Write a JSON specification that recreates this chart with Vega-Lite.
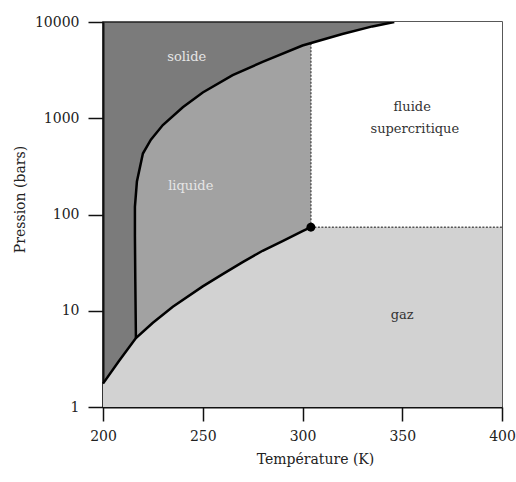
{
  "$schema": "https://vega.github.io/schema/vega-lite/v6.json",
  "autosize": "none",
  "width": 399,
  "height": 385,
  "padding": {"left": 103, "top": 22, "right": 14, "bottom": 75},
  "background": "white",
  "config": {
    "view": {"fill": "#7b7b7b", "stroke": "#222", "strokeWidth": 1.5},
    "font": "DejaVu Serif"
  },
  "datasets": {
    "gas": [
      {"T": 200, "P": 1.75}, {"T": 208, "P": 3.0}, {"T": 216.5, "P": 5.2},
      {"T": 225, "P": 7.5}, {"T": 235, "P": 11}, {"T": 250, "P": 17.9},
      {"T": 260, "P": 24}, {"T": 270, "P": 32}, {"T": 280, "P": 42},
      {"T": 290, "P": 53}, {"T": 300, "P": 67}, {"T": 304.2, "P": 73.8},
      {"T": 400, "P": 73.8}
    ],
    "vapor": [
      {"T": 200, "P": 1.75}, {"T": 208, "P": 3.0}, {"T": 216.5, "P": 5.2},
      {"T": 225, "P": 7.5}, {"T": 235, "P": 11}, {"T": 250, "P": 17.9},
      {"T": 260, "P": 24}, {"T": 270, "P": 32}, {"T": 280, "P": 42},
      {"T": 290, "P": 53}, {"T": 300, "P": 67}, {"T": 304.2, "P": 73.8}
    ],
    "liquid": [
      {"T": 216, "P": 120}, {"T": 217, "P": 220}, {"T": 220, "P": 430},
      {"T": 224, "P": 600}, {"T": 230, "P": 850}, {"T": 240, "P": 1300},
      {"T": 250, "P": 1850}, {"T": 265, "P": 2800}, {"T": 280, "P": 3850},
      {"T": 300, "P": 5700}, {"T": 304.2, "P": 6100}
    ],
    "fluid": [
      {"T": 304.2, "P": 6100}, {"T": 320, "P": 7500}, {"T": 335, "P": 9000},
      {"T": 346, "P": 10000}, {"T": 400, "P": 10000}
    ],
    "melt": [
      {"i": 1, "T": 216.5, "P": 5.2}, {"i": 2, "T": 216.2, "P": 20},
      {"i": 3, "T": 216, "P": 60}, {"i": 4, "T": 216, "P": 120},
      {"i": 5, "T": 217, "P": 220}, {"i": 6, "T": 220, "P": 430},
      {"i": 7, "T": 224, "P": 600}, {"i": 8, "T": 230, "P": 850},
      {"i": 9, "T": 240, "P": 1300}, {"i": 10, "T": 250, "P": 1850},
      {"i": 11, "T": 265, "P": 2800}, {"i": 12, "T": 280, "P": 3850},
      {"i": 13, "T": 300, "P": 5700}, {"i": 14, "T": 320, "P": 7500},
      {"i": 15, "T": 335, "P": 9000}, {"i": 16, "T": 346, "P": 10000}
    ],
    "critical": [{"T": 304.2, "P": 73.8, "Ptop": 6100, "Tend": 400}],
    "lightLabels": [
      {"T": 242, "P": 4300, "text": "solide"},
      {"T": 244, "P": 200, "text": "liquide"}
    ],
    "darkLabels": [
      {"T": 355, "P": 1300, "text": "fluide"},
      {"T": 356.3, "P": 780, "text": "supercritique"},
      {"T": 350, "P": 9.0, "text": "gaz"}
    ]
  },
  "encoding": {
    "x": {
      "field": "T", "type": "quantitative",
      "scale": {"domain": [200, 400], "nice": false, "zero": false},
      "axis": {
        "title": "Température (K)", "values": [200, 250, 300, 350, 400],
        "grid": false, "tickSize": 14, "tickColor": "#111", "tickWidth": 1.5,
        "domainColor": "#111", "domainWidth": 2, "labelFlush": false,
        "labelFont": "DejaVu Serif", "labelFontSize": 14, "labelColor": "#222",
        "labelPadding": 8,
        "titleFont": "DejaVu Serif", "titleFontSize": 14, "titleFontWeight": "normal",
        "titleColor": "#222", "titleX": 212, "titleY": 52, "titleBaseline": "middle"
      }
    },
    "y": {
      "field": "P", "type": "quantitative",
      "scale": {"type": "log", "domain": [1, 10000], "nice": false},
      "axis": {
        "title": "Pression (bars)", "values": [1, 10, 100, 1000, 10000], "format": "d",
        "grid": false, "tickSize": 15, "tickColor": "#111", "tickWidth": 1.5,
        "domainColor": "#111", "domainWidth": 2, "labelFlush": false,
        "labelFont": "DejaVu Serif", "labelFontSize": 14, "labelColor": "#222",
        "labelPadding": 9,
        "titleFont": "DejaVu Serif", "titleFontSize": 14, "titleFontWeight": "normal",
        "titleColor": "#222", "titleX": -83, "titleY": 177, "titleBaseline": "middle"
      }
    }
  },
  "layer": [
    {"data": {"name": "liquid"}, "mark": {"type": "area", "color": "#a2a2a2", "clip": true},
     "encoding": {"y2": {"datum": 1}}},
    {"data": {"name": "fluid"}, "mark": {"type": "area", "color": "#ffffff", "clip": true},
     "encoding": {"y2": {"datum": 1}}},
    {"data": {"name": "gas"}, "mark": {"type": "area", "color": "#d2d2d2", "clip": true},
     "encoding": {"y2": {"datum": 1}}},
    {"data": {"name": "critical"}, "mark": {"type": "rule", "color": "#555", "strokeDash": [2, 1.5], "strokeWidth": 1.5},
     "encoding": {"y2": {"field": "Ptop"}}},
    {"data": {"name": "critical"}, "mark": {"type": "rule", "color": "#555", "strokeDash": [2, 1.5], "strokeWidth": 1.5},
     "encoding": {"x2": {"field": "Tend"}}},
    {"data": {"name": "vapor"}, "mark": {"type": "line", "color": "#000", "strokeWidth": 2.5},
     "encoding": {}},
    {"data": {"name": "melt"}, "mark": {"type": "line", "color": "#000", "strokeWidth": 2.5, "clip": true},
     "encoding": {"order": {"field": "i", "type": "quantitative"}}},
    {"data": {"name": "critical"}, "mark": {"type": "point", "filled": true, "color": "#000", "size": 80, "opacity": 1},
     "encoding": {}},
    {"data": {"name": "lightLabels"}, "mark": {"type": "text", "color": "#e6e6e6", "fontSize": 13, "font": "DejaVu Serif"},
     "encoding": {"text": {"field": "text"}}},
    {"data": {"name": "darkLabels"}, "mark": {"type": "text", "color": "#333", "fontSize": 13, "font": "DejaVu Serif"},
     "encoding": {"text": {"field": "text"}}}
  ]
}
